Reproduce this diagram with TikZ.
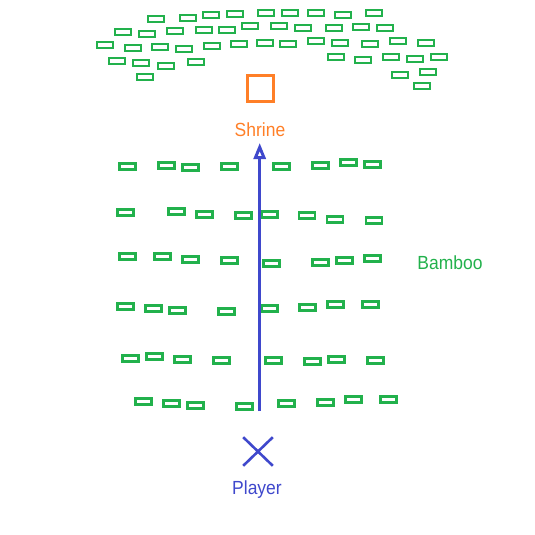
\documentclass[tikz,border=0pt]{standalone}
\usepackage{fontspec}
\setmainfont{Liberation Sans}[FakeStretch=0.92]
\usetikzlibrary{arrows.meta,shapes.misc}
\definecolor{bgreen}{HTML}{22B14C}
\definecolor{sorange}{HTML}{FF7F27}
\definecolor{pblue}{HTML}{3F48CC}
\begin{document}
\begin{tikzpicture}[x=1pt,y=-1pt,
  bamboo/.style={rectangle, draw=bgreen, line width=2.6pt, minimum width=15.8pt, minimum height=5.7pt, inner sep=0pt},
  shrinebox/.style={rectangle, draw=sorange, line width=2.7pt, minimum size=26pt, inner sep=0pt},
  playermark/.style={cross out, draw=pblue, line width=2.6pt, minimum width=27pt, minimum height=26pt, inner sep=0pt},
  lbl/.style={font=\fontsize{19}{22}\selectfont, inner sep=0pt, anchor=base},
  walk/.style={draw=pblue, line width=3pt, -{Triangle[open, length=16pt, width=12pt, line width=3pt]}}
]
\useasboundingbox (0,0) rectangle (535,535);
% bamboo grove at the top
\foreach \x/\y [count=\i] in {
  156/19, 188/18, 211/15, 235/14, 266/13, 290/13, 316/13, 343/15, 374/13,
  123/32, 147/34, 175/31, 204/30, 227/30, 250/26, 279/26, 303/28, 334/28, 361/27, 385/28,
  105/45, 133/48, 160/47, 184/49, 212/46, 239/44, 265/43, 288/44, 316/41, 340/43, 370/44, 398/41, 426/43,
  117/61, 141/63, 166/66, 196/62, 336/57, 363/60, 391/57, 415/59, 439/57,
  145/77, 400/75, 428/72, 422/86}
  \node[bamboo] (t\i) at (\x,\y) {};
% bamboo along the path
\foreach \x/\y [count=\i] in {
  127.5/166.5, 166.5/165.5, 190.5/167.5, 229.5/166.5, 281.5/166.5, 320.5/165.5, 348.5/162.5, 372.5/164.5,
  125.5/212.5, 176.5/211.5, 204.5/214.5, 243.5/215.5, 269.5/214.5, 307/215.5, 335/219.5, 374/220.5,
  127.5/256.5, 162.5/256.5, 190.5/259.5, 229.5/260.5, 271.5/263.5, 320.5/262.5, 344.5/260.5, 372.5/258.5,
  125.5/306.5, 153.5/308.5, 177.5/310.5, 226.5/311.5, 269.5/308.5, 307.5/307.5, 335.5/304.5, 370.5/304.5,
  130.5/358.5, 154.5/356.5, 182.5/359.5, 221.5/360.5, 273.5/360.5, 312.5/361.5, 336.5/359.5, 375.5/360.5,
  143.5/401.5, 171.5/403.5, 195.5/405.5, 244.5/406.5, 286.5/403.5, 325.5/402.5, 353.5/399.5, 388.5/399.5}
  \node[bamboo] (b\i) at (\x,\y) {};
% shrine
\node[shrinebox] (shrine) at (260.5,88.5) {};
\node[lbl, text=sorange] (shrinelbl) at (260,136) {Shrine};
% labels
\node[lbl, text=bgreen] (bamboolbl) at (450,269) {Bamboo};
% player
\node[playermark] (player) at (258,451.5) {};
\node[lbl, text=pblue] (playerlbl) at (257,494) {Player};
% path
\coordinate (start) at (259.7,411);
\coordinate (goal) at (259.7,143);
\draw[walk] (start) -- (goal);
\end{tikzpicture}
\end{document}
